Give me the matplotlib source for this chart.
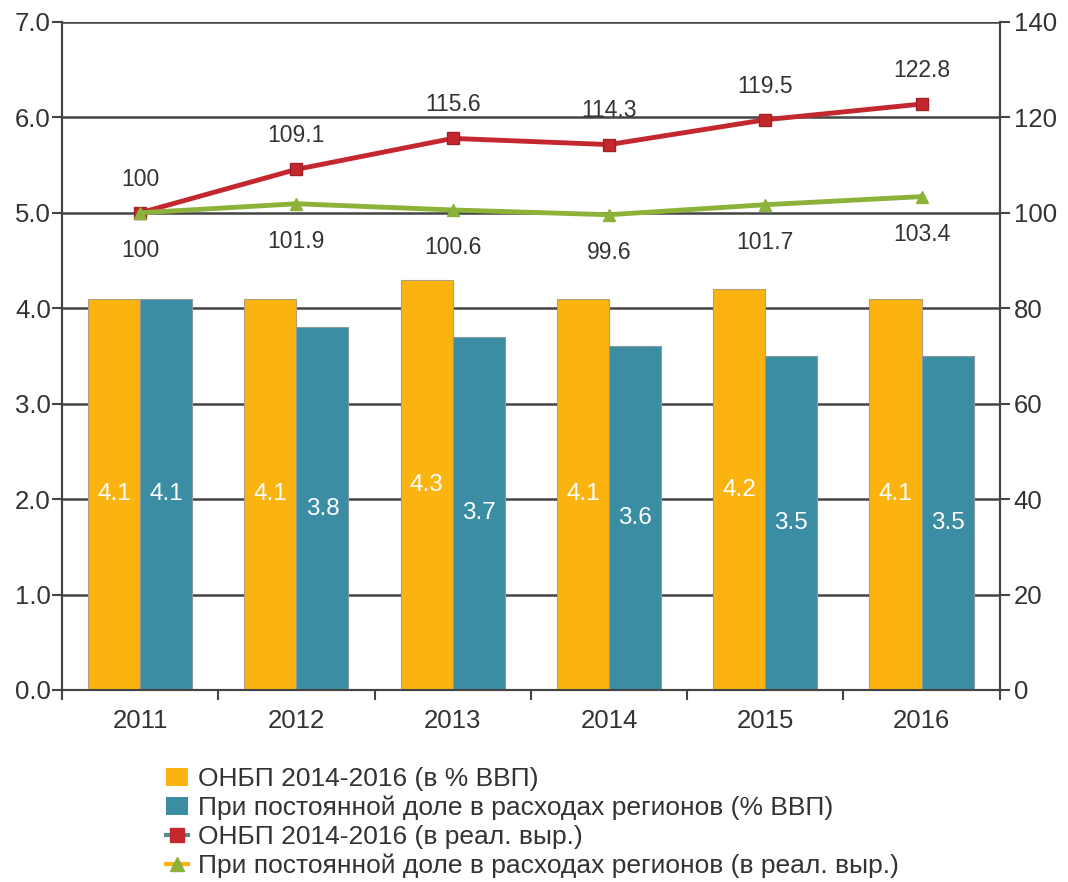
import matplotlib.pyplot as plt
from matplotlib.lines import Line2D
from matplotlib.patches import Patch
import numpy as np

plt.rcParams['font.family'] = ['Liberation Sans', 'DejaVu Sans']

years = ['2011', '2012', '2013', '2014', '2015', '2016']
onbp_gdp = [4.1, 4.1, 4.3, 4.1, 4.2, 4.1]
const_share_gdp = [4.1, 3.8, 3.7, 3.6, 3.5, 3.5]
onbp_real = [100, 109.1, 115.6, 114.3, 119.5, 122.8]
const_share_real = [100, 101.9, 100.6, 99.6, 101.7, 103.4]

legend_labels = [
    'ОНБП 2014-2016 (в % ВВП)',
    'При постоянной доле в расходах регионов (% ВВП)',
    'ОНБП 2014-2016 (в реал. выр.)',
    'При постоянной доле в расходах регионов (в реал. выр.)',
]

ORANGE = '#fbb40f'
TEAL = '#3a8da3'
RED = '#c4282e'
GREEN = '#8db23a'
TEXT = '#333333'
GRID = '#444444'

fig = plt.figure(figsize=(10.68, 8.82), dpi=100)
ax = fig.add_axes([0.058, 0.2177, 0.878, 0.7574])
ax2 = ax.twinx()

x = np.arange(len(years))
w = 1 / 3

b1 = ax.bar(x - w / 2, onbp_gdp, w, color=ORANGE, edgecolor='#b0a080', linewidth=0.8, zorder=3)
b2 = ax.bar(x + w / 2, const_share_gdp, w, color=TEAL, edgecolor='#8a9aa0', linewidth=0.8, zorder=3)

# значения столбцов - белым по центру
for bars, vals in ((b1, onbp_gdp), (b2, const_share_gdp)):
    for r, v in zip(bars, vals):
        ax.text(r.get_x() + r.get_width() / 2, v / 2, '%.1f' % v, ha='center', va='center',
                color='white', fontsize=17.5, zorder=4)

ax.set_ylim(0, 7)
ax.set_yticks(np.arange(0, 7.01, 1))
ax.set_yticklabels(['%.1f' % t for t in np.arange(0, 7.01, 1)])
ax.yaxis.grid(True, color=GRID, linewidth=1.8, zorder=0)
ax.set_axisbelow(True)
ax.set_xlim(-0.5, len(years) - 0.5)

ax.set_xticks(x)
ax.set_xticklabels(years)
ax.set_xticks(np.arange(-0.5, len(years), 1), minor=True)
ax.tick_params(axis='x', which='major', length=0, pad=14, labelsize=18.5, labelcolor=TEXT)
ax.tick_params(axis='x', which='minor', length=7, width=1.5, color=GRID, direction='out')
ax.tick_params(axis='y', length=7, width=1.5, color=GRID, labelsize=18.5, labelcolor=TEXT, pad=1)

for a in (ax, ax2):
    a.spines['top'].set_visible(False)
    for s in ('left', 'right', 'bottom'):
        a.spines[s].set_color(GRID)
        a.spines[s].set_linewidth(1.5)

# линии в реальном выражении - по правой оси
ax2.plot(x, onbp_real, color=RED, linewidth=3.5, marker='s', markersize=9,
         markerfacecolor=RED, markeredgecolor='#a02028', zorder=5)
ax2.plot(x, const_share_real, color=GREEN, linewidth=3.5, marker='^', markersize=9,
         markerfacecolor=GREEN, markeredgecolor=GREEN, zorder=5)
ax2.set_ylim(0, 140)
ax2.set_yticks(np.arange(0, 141, 20))
ax2.tick_params(axis='y', length=7, width=1.5, color=GRID, labelsize=18.5, labelcolor=TEXT, pad=3)

for xi, v in zip(x, onbp_real):
    ax2.annotate('%g' % v, (xi, v), xytext=(0, 16), textcoords='offset points',
                 ha='center', va='bottom', fontsize=16.5, color=TEXT)
for xi, v in zip(x, const_share_real):
    ax2.annotate('%g' % v, (xi, v), xytext=(0, -19), textcoords='offset points',
                 ha='center', va='top', fontsize=16.5, color=TEXT)

handles = [
    Patch(facecolor=ORANGE, edgecolor='none'),
    Patch(facecolor=TEAL, edgecolor='none'),
    Line2D([], [], color='#5a8a90', linewidth=3, marker='s', markersize=10,
           markerfacecolor=RED, markeredgecolor=RED),
    Line2D([], [], color=ORANGE, linewidth=3, marker='^', markersize=10,
           markerfacecolor=GREEN, markeredgecolor=GREEN),
]
fig.legend(handles, legend_labels, loc='upper left', bbox_to_anchor=(0.146, 0.142),
           frameon=False, fontsize=19, handlelength=0.8, handletextpad=0.4,
           labelspacing=0.17, labelcolor=TEXT, borderaxespad=0)

fig.savefig('out.png', dpi=100)
